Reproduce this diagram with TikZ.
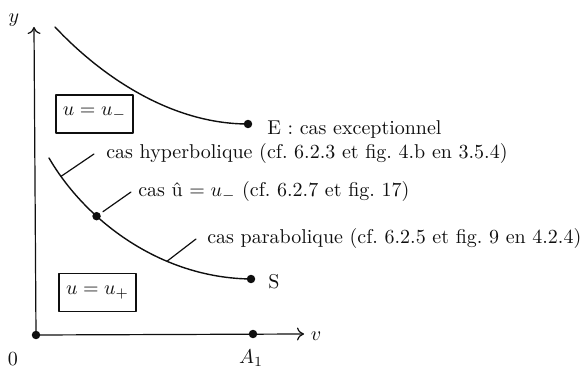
\documentclass[tikz,border=0pt]{standalone}
\usepackage{amsmath}
\usetikzlibrary{arrows.meta,positioning}
\definecolor{RegimeInk}{gray}{0.06}
\tikzset{
    regime/diagram/.style={
        x=0.5pt, y=-0.5pt,
        color=RegimeInk,
        line width=0.6pt,
        line cap=round,
        line join=round
    },
    regime/axis/.style={
        draw=RegimeInk, line width=0.6pt,
        -{To[length=3.5pt, width=6.5pt]}
    },
    regime/curve/.style={draw=RegimeInk, line width=0.7pt},
    regime/leader/.style={draw=RegimeInk, line width=0.6pt},
    regime/point/.style={circle, fill=RegimeInk, draw=none, inner sep=1.5pt},
    regime/state/.style={
        draw=RegimeInk, line width=0.55pt,
        minimum width=38.5pt, minimum height=19pt, inner sep=2pt
    }
}
\begin{document}
\begin{tikzpicture}[regime/diagram]
    \useasboundingbox (0,0) rectangle (583,368);
    % Axes (v, y) with the origin and A_1.
    \coordinate (origin) at (36,335);
    \coordinate (vtip) at (304,334);
    \coordinate (ytip) at (34,27);
    \draw[regime/axis] (origin) -- (vtip);
    \draw[regime/axis] (origin) -- (ytip);
    \node[regime/point] (O) at (origin) {};
    \node[regime/point] (A1) at (253,334) {};
    \node (vlab) at (316,336) {$v$};
    \node (ylab) at (14,20) {$y$};
    \node (zerolab) at (13,359) {0};
    \node (A1lab) at (251,358) {$A_1$};
    % Upper branch, ending at E.
    \node[regime/point] (E) at (248,124) {};
    \draw[regime/curve] (55,27) .. controls (100,75) and (170,124) .. (E.center);
    \node[anchor=west] (Elab) at (260,130) {E : cas exceptionnel};
    % Lower branch, ending at S.
    \node[regime/point] (S) at (251,279) {};
    \draw[regime/curve] (49,158) .. controls (85,220) and (160,278) .. (S.center)
        coordinate[pos=0.1] (hyp)
        coordinate[pos=0.33] (uhat)
        coordinate[pos=0.67] (para);
    \node[regime/point] (Uhat) at (uhat) {};
    \node[anchor=west] (Slab) at (261,282) {S};
    % Leaders to the three cases.
    \coordinate (hypend) at (94,154);
    \coordinate (uhatend) at (131,192);
    \coordinate (paraend) at (196,239);
    \draw[regime/leader] (hyp) -- (hypend);
    \draw[regime/leader, shorten <=1.5pt] (Uhat) -- (uhatend);
    \draw[regime/leader] (para) -- (paraend);
    \node[right=2.5pt of hypend] (hyplab) {cas hyperbolique (cf.\ 6.2.3 et fig.\ 4.b en 3.5.4)};
    \node[right=0pt of uhatend] (uhatlab) {cas \^u $= u_-$ (cf.\ 6.2.7 et fig.\ 17)};
    \node[right=2pt of paraend] (paralab) {cas parabolique (cf.\ 6.2.5 et fig.\ 9 en 4.2.4)};
    % The two regions.
    \node[regime/state] (minus) at (94.5,114) {$u=u_-$};
    \node[regime/state] (plus) at (97.5,292.5) {$u=u_+$};
\end{tikzpicture}
\end{document}
